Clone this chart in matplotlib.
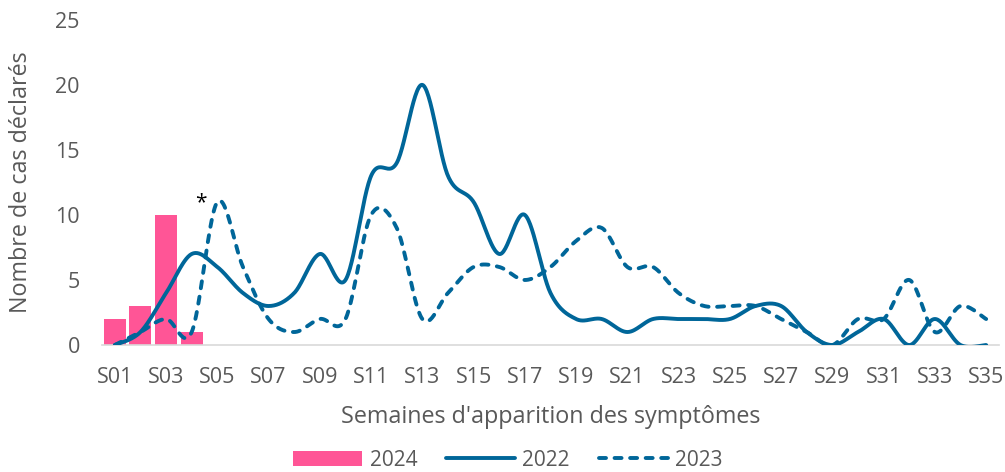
import numpy as np
import matplotlib.pyplot as plt
from matplotlib.patches import Patch
from matplotlib.lines import Line2D

weeks = [f"S{i:02d}" for i in range(1, 36)]
cases_2024 = [2, 3, 10, 1]
cases_2022 = [0, 1, 4, 7, 6, 4, 3, 4, 7, 5, 13, 14, 20, 13, 11, 7, 10, 4,
              2, 2, 1, 2, 2, 2, 2, 3, 3, 1, 0, 1, 2, 0, 2, 0, 0]
cases_2023 = [0, 1, 2, 1, 11, 6, 2, 1, 2, 2, 10, 9, 2, 4, 6, 6, 5, 6,
              8, 9, 6, 6, 4, 3, 3, 3, 2, 1, 0, 2, 2, 5, 1, 3, 2]

PINK = "#FF5596"
BLUE = "#006699"
GREY = "#595959"


def smooth(y, n=30):
    # bezier smoothing like the spreadsheet "smoothed line" option
    y = np.asarray(y, dtype=float)
    x = np.arange(len(y), dtype=float)
    pts = np.column_stack([x, y])
    ext = np.vstack([pts[0], pts, pts[-1]])
    t = np.linspace(0, 1, n)[:, None]
    out = []
    for i in range(len(pts) - 1):
        p0, p3 = ext[i + 1], ext[i + 2]
        c1 = p0 + (ext[i + 2] - ext[i]) / 6
        c2 = p3 - (ext[i + 3] - ext[i + 1]) / 6
        seg = ((1 - t) ** 3 * p0 + 3 * (1 - t) ** 2 * t * c1
               + 3 * (1 - t) * t ** 2 * c2 + t ** 3 * p3)
        out.append(seg if i == 0 else seg[1:])
    out = np.vstack(out)
    return out[:, 0], out[:, 1]


plt.rcParams["font.family"] = ["Open Sans", "DejaVu Sans"]

fig = plt.figure(figsize=(10.05, 4.72), dpi=100)
ax = fig.add_axes([0.1015, 0.269, 0.8925, 0.689])

x = np.arange(len(weeks))
ax.bar(x[:len(cases_2024)], cases_2024, width=0.86, color=PINK, zorder=2)

sx, sy = smooth(cases_2022)
ax.plot(sx, sy, color=BLUE, lw=2.8, solid_capstyle="round", zorder=3)
sx, sy = smooth(cases_2023)
ax.plot(sx, sy, color=BLUE, lw=2.8, dashes=(1.8, 2.2),
        dash_capstyle="round", zorder=3)

# marker next to the 2024 bars
ax.text(3.35, 10.15, "*", fontsize=15, color="black", ha="center", va="bottom")

ax.set_xlim(-0.5, len(weeks) - 0.5)
ax.set_ylim(0, 25)
ax.set_yticks([0, 5, 10, 15, 20, 25])
ax.set_xticks(x[::2])
ax.set_xticklabels(weeks[::2])
ax.tick_params(axis="both", length=0, labelsize=15.5, colors=GREY)
ax.tick_params(axis="x", pad=16)
ax.tick_params(axis="y", pad=16)

for s in ["top", "right", "left"]:
    ax.spines[s].set_visible(False)
ax.spines["bottom"].set_color("#D9D9D9")
ax.spines["bottom"].set_linewidth(1.2)

ax.set_xlabel("Semaines d'apparition des symptômes", fontsize=16.8,
              color=GREY)
ax.xaxis.set_label_coords(0.5, -0.185)
ax.set_ylabel("Nombre de cas déclarés", fontsize=16.8, color=GREY)
ax.yaxis.set_label_coords(-0.077, 0.5)

handles = [
    Patch(facecolor=PINK, label="2024"),
    Line2D([], [], color=BLUE, lw=2.8, solid_capstyle="round", label="2022"),
    Line2D([], [], color=BLUE, lw=2.8, dashes=(1.8, 2.2),
           dash_capstyle="round", label="2023"),
]
leg = fig.legend(handles=handles, loc="center", bbox_to_anchor=(0.5055, 0.025),
                 ncol=3, frameon=False, fontsize=15, handlelength=3.3,
                 handleheight=0.7, columnspacing=1.4, handletextpad=0.35,
                 borderpad=0.2)
for t in leg.get_texts():
    t.set_color(GREY)

fig.savefig("out.png", dpi=100)
